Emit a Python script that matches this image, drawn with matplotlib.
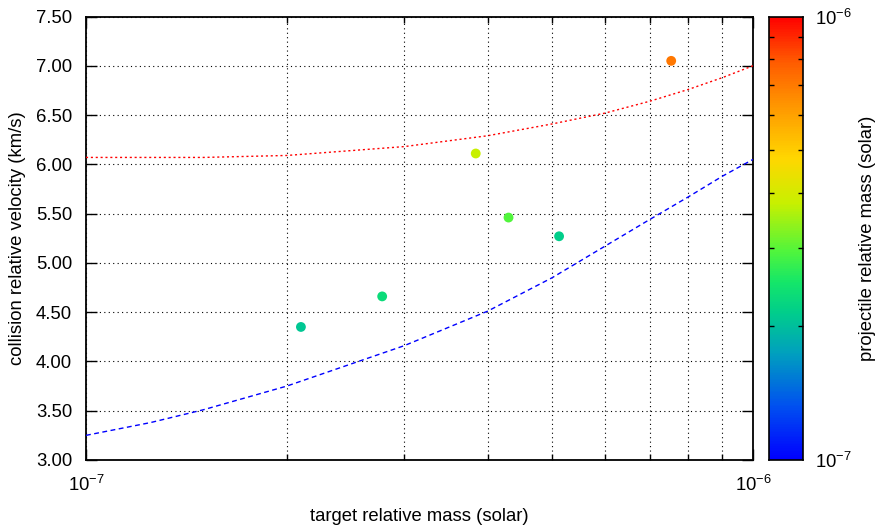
import numpy as np
import matplotlib
matplotlib.use("Agg")
import matplotlib.pyplot as plt
from matplotlib.colors import LinearSegmentedColormap, LogNorm
from matplotlib.ticker import LogLocator, NullFormatter, FixedLocator

plt.rcParams['font.family'] = ['Liberation Sans', 'DejaVu Sans']
plt.rcParams['mathtext.fontset'] = 'custom'
plt.rcParams['mathtext.rm'] = 'Liberation Sans'
plt.rcParams['mathtext.it'] = 'Liberation Sans'
plt.rcParams['mathtext.default'] = 'regular'

# collision events
target_mass = [2.10e-7, 2.78e-7, 3.84e-7, 4.30e-7, 5.12e-7, 7.54e-7]
velocity = [4.35, 4.66, 6.11, 5.46, 5.27, 7.05]
projectile_mass = [2.08e-7, 2.33e-7, 3.80e-7, 2.95e-7, 2.15e-7, 7.10e-7]

# reference curves (sampled)
curve_mass = [1.0e-7, 1.25e-7, 1.5e-7, 2e-7, 3e-7, 4e-7, 5e-7, 6e-7, 7e-7, 8e-7, 9e-7, 1.0e-6]
v_low = [3.25, 3.38, 3.51, 3.75, 4.16, 4.51, 4.85, 5.17, 5.44, 5.67, 5.88, 6.05]
v_high = [6.07, 6.07, 6.07, 6.09, 6.18, 6.29, 6.41, 6.52, 6.64, 6.76, 6.88, 7.00]

yticks = [3.0, 3.5, 4.0, 4.5, 5.0, 5.5, 6.0, 6.5, 7.0, 7.5]

palette = LinearSegmentedColormap.from_list("pal", [
    (0.00, (0/255, 0/255, 255/255)),
    (0.12, (0/255, 80/255, 240/255)),
    (0.24, (0/255, 160/255, 190/255)),
    (0.33, (0/255, 205/255, 140/255)),
    (0.40, (20/255, 230/255, 105/255)),
    (0.47, (80/255, 245/255, 60/255)),
    (0.58, (200/255, 240/255, 0/255)),
    (0.68, (255/255, 215/255, 0/255)),
    (0.80, (255/255, 150/255, 0/255)),
    (0.90, (255/255, 90/255, 0/255)),
    (1.00, (255/255, 0/255, 0/255)),
])
norm = LogNorm(vmin=1e-7, vmax=1e-6)

FS = 13.3
W, H = 878, 530
fig = plt.figure(figsize=(W / 100, H / 100), dpi=100)
ax = fig.add_axes([86 / W, (H - 460) / H, 667 / W, 443.5 / H])
cax = fig.add_axes([769 / W, (H - 460) / H, 34 / W, 443.5 / H])

ax.set_xscale('log')
ax.set_xlim(1e-7, 1e-6)
ax.set_ylim(3.0, 7.5)

ax.plot(curve_mass, v_high, color='red', lw=1.0, ls=(0, (1.5, 2.0)), zorder=3)
ax.plot(curve_mass, v_low, color='blue', lw=1.0, ls=(0, (3.5, 2.5)), zorder=3)
ax.scatter(target_mass, velocity, c=projectile_mass, cmap=palette, norm=norm,
           s=50, edgecolors='none', zorder=4)

ax.set_yticks(yticks)
ax.set_yticklabels([f"{v:.2f}" for v in yticks])
ax.xaxis.set_major_locator(FixedLocator([1e-7, 1e-6]))
ax.set_xticklabels([r'$10^{-7}$', r'$10^{-6}$'])
ax.xaxis.set_minor_locator(LogLocator(base=10, subs=np.arange(2, 10)))
ax.xaxis.set_minor_formatter(NullFormatter())

grid_kw = dict(color='black', lw=0.8, ls=(0, (1, 3)))
ax.grid(True, which='major', axis='y', **grid_kw)
ax.grid(True, which='both', axis='x', **grid_kw)

ax.tick_params(which='major', direction='in', length=8, width=1.0,
               top=True, right=True, labelsize=FS, color='black')
ax.tick_params(axis='y', pad=10)
ax.tick_params(axis='x', pad=11)
ax.tick_params(which='minor', direction='in', length=4, width=1.0,
               top=True, bottom=True)
for s in ax.spines.values():
    s.set_linewidth(1.3)

ax.set_xlabel('target relative mass (solar)', fontsize=FS, labelpad=9)
ax.set_ylabel('collision relative velocity (km/s)', fontsize=FS, labelpad=7)

# colour bar
grad = np.logspace(-7, -6, 256).reshape(-1, 1)
cax.pcolormesh([0, 1], np.logspace(-7, -6, 257), grad, cmap=palette, norm=norm,
               shading='flat')
cax.set_yscale('log')
cax.set_ylim(1e-7, 1e-6)
cax.set_xlim(0, 1)
cax.set_xticks([])
cax.yaxis.tick_right()
cax.yaxis.set_major_locator(FixedLocator([1e-7, 1e-6]))
cax.set_yticklabels([r'$10^{-7}$', r'$10^{-6}$'])
cax.yaxis.set_minor_locator(LogLocator(base=10, subs=np.arange(2, 10)))
cax.yaxis.set_minor_formatter(NullFormatter())
cax.tick_params(which='major', direction='in', length=0, labelsize=FS, pad=9,
                left=True, right=True)
cax.tick_params(which='minor', direction='in', length=3.5, width=1.0,
                left=True, right=True)
for s in cax.spines.values():
    s.set_linewidth(1.2)
cax.yaxis.set_label_position('right')
cax.set_ylabel('projectile relative mass (solar)', fontsize=FS, labelpad=5)

fig.savefig('out.png', dpi=100)
